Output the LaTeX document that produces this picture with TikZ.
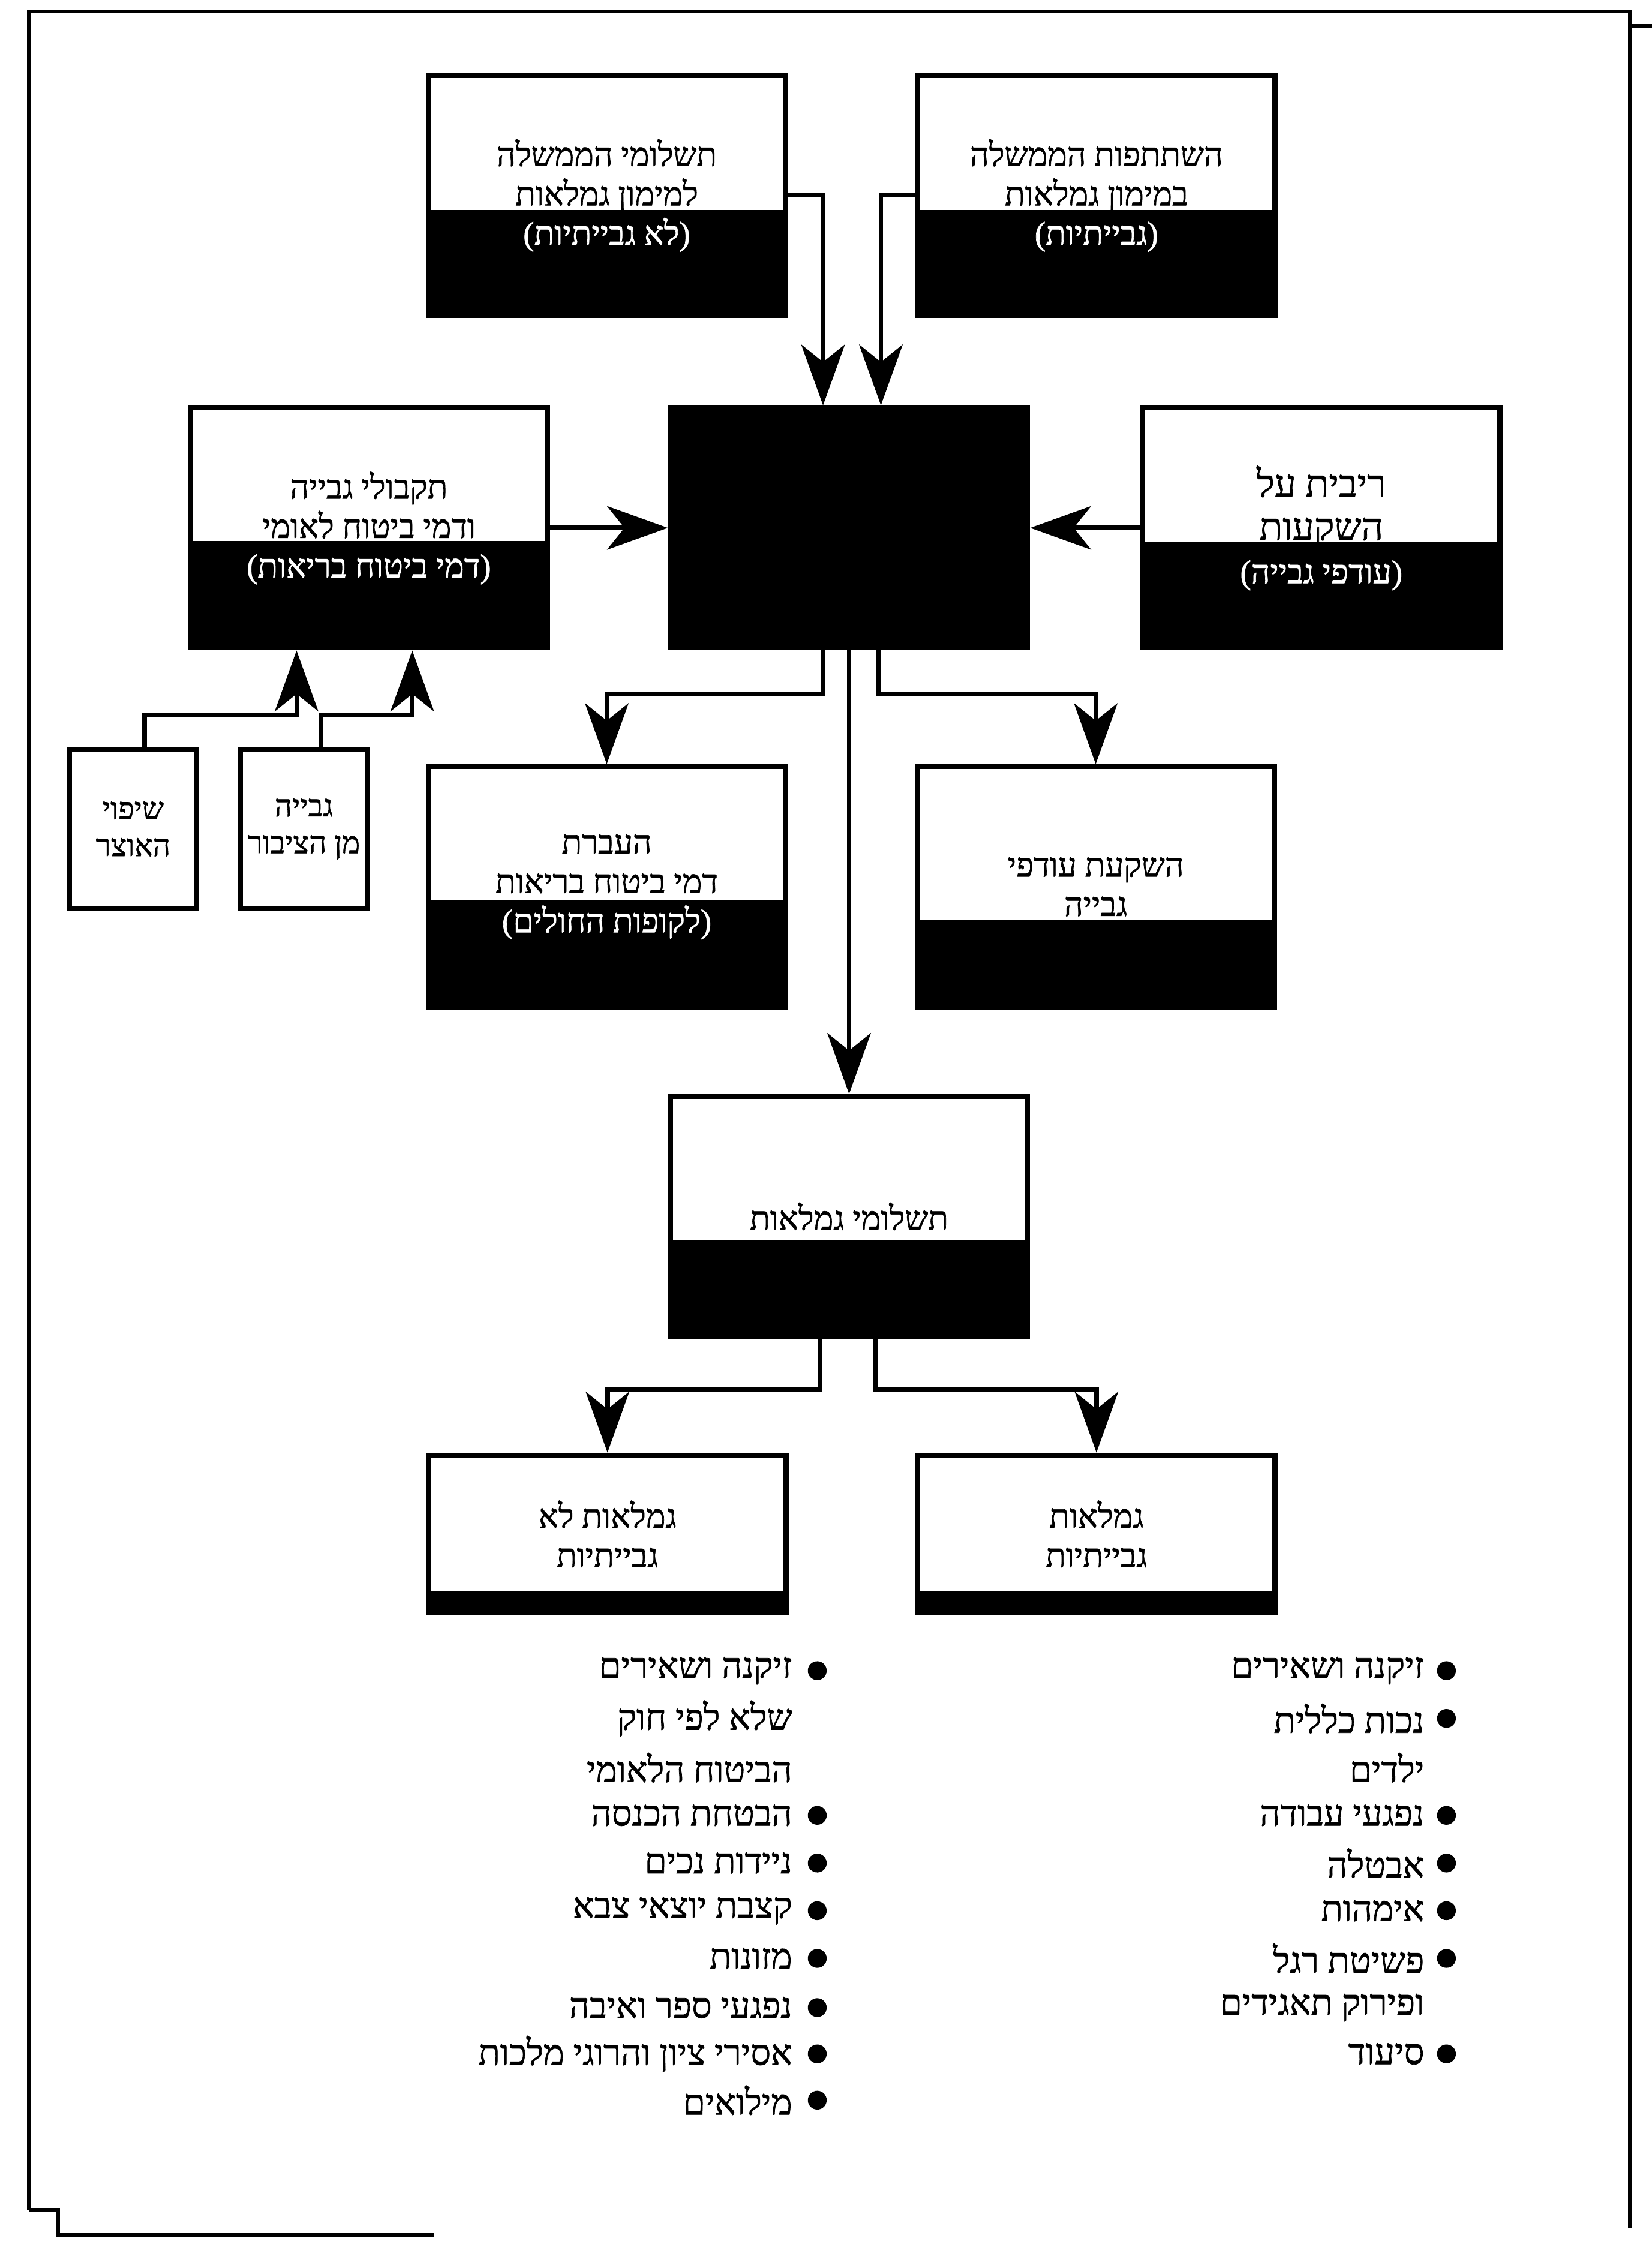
\documentclass[tikz,border=0pt]{standalone}
\usepackage{fontspec}
\setmainfont{Liberation Serif}[Script=Hebrew,FakeBold=1.2]
\TeXXeTstate=1
\usetikzlibrary{arrows.meta,positioning,calc}
\newcommand{\hb}[1]{\beginR #1\endR}
\tikzset{
  pane/.style={rectangle,draw,line width=2pt,fill=white,align=center,
               minimum width=4.94cm,minimum height=3.32cm,
               font=\fontsize{13}{15.5}\selectfont},
  dk/.style={pane,path picture={\fill[black] (path picture bounding box.south west)
               rectangle ([yshift=#1]path picture bounding box.east);}},
  smallpane/.style={pane,minimum width=1.76cm,minimum height=2.2cm,inner sep=1pt,
               font=\fontsize{12}{14.5}\selectfont},
  arr/.style={-{Stealth[length=0.84cm,width=0.6cm,inset=0.24cm]},line width=1.8pt},
  lst/.style={anchor=east,inner sep=0pt,font=\fontsize{14}{16}\selectfont},
  dot/.style={circle,fill,inner sep=0pt,minimum size=0.26cm},
  frm/.style={line width=1.5pt}
}
\begin{document}
\begin{tikzpicture}[x=0.02cm,y=-0.02cm]
  \useasboundingbox (0,0) rectangle (1142,1568);
  % page frame
  \draw[frm] (20,1528) -- (20,8) -- (1127,8) -- (1127,1540);
  \draw[frm] (1127,18) -- (1142,18);
  \draw[frm] (20,1528) -- (40,1528) -- (40,1545) -- (300,1545);

  % sources
  \node[dk=-0.2cm] (gpay) at (419.5,135) {\hb{תשלומי הממשלה}\\\hb{למימון גמלאות}\\\textcolor{white}{\hb{(לא גבייתיות)}}};
  \node[dk=-0.2cm] (gpart) at (758,135) {\hb{השתתפות הממשלה}\\\hb{במימון גמלאות}\\\textcolor{white}{\hb{(גבייתיות)}}};
  \node[dk=-0.18cm] (coll) at (255,365) {\hb{תקבולי גבייה}\\\hb{ודמי ביטוח לאומי}\\\textcolor{white}{\hb{(דמי ביטוח בריאות)}}};
  \node[pane,fill=black] (core) at (587,365) {};
  \node[dk=-0.2cm,font=\fontsize{15}{17}\selectfont] (ribit) at (913.5,365) {\hb{ריבית על}\\\hb{השקעות}\\\textcolor{white}{\fontsize{13}{15}\selectfont\hb{(עודפי גבייה)}}};
  \node[smallpane] (shipui) at (92,573) {\hb{שיפוי}\\\hb{האוצר}};
  \node[smallpane] (gviya) at (210,573) {\hb{גבייה}\\\hb{מן הציבור}};

  % uses
  \node[dk=-0.18cm] (transfer) at (419.5,613) {\hb{העברת}\\\hb{דמי ביטוח בריאות}\\\textcolor{white}{\hb{(לקופות החולים)}}};
  \node[dk=-0.46cm] (surplus) at (757.5,613) {\hb{השקעת עודפי}\\\hb{גבייה}};
  \node[dk=-0.32cm] (tsh) at (587,841) {\hb{תשלומי גמלאות}};
  \node[dk=-0.79cm,minimum height=2.18cm] (nong) at (420,1060.5) {\hb{גמלאות לא}\\\hb{גבייתיות}};
  \node[dk=-0.79cm,minimum height=2.18cm] (gng) at (758,1060.5) {\hb{גמלאות}\\\hb{גבייתיות}};

  \draw[arr] (gpay.east) -| ([xshift=-0.36cm]core.north);
  \draw[arr] (gpart.west) -| ([xshift=0.44cm]core.north);
  \draw[arr] (coll) -- (core);
  \draw[arr] (ribit) -- (core);
  \draw[arr] ([xshift=0.16cm]shipui.north) -- ++(0,-22) -| ([xshift=-1cm]coll.south);
  \draw[arr] ([xshift=0.24cm]gviya.north) -- ++(0,-22) -| ([xshift=0.6cm]coll.south);
  \draw[arr] ([xshift=-0.36cm]core.south) -- ++(0,30) -| (transfer.north);
  \draw[arr] ([xshift=0.4cm]core.south) -- ++(0,30) -| (surplus.north);
  \draw[arr] (core) -- (tsh);
  \draw[arr] ([xshift=-0.4cm]tsh.south) -- ++(0,35) -| (nong.north);
  \draw[arr] ([xshift=0.36cm]tsh.south) -- ++(0,35) -| (gng.north);

  % contributory benefits
  \node[lst] (r1) at (985,1155) {\hb{זיקנה ושאירים}};
  \node[lst] (r2) at (985,1188) {\hb{נכות כללית}};
  \node[lst] (r3) at (985,1222) {\hb{ילדים}};
  \node[lst] (r4) at (985,1255) {\hb{נפגעי עבודה}};
  \node[lst] (r5) at (985,1288) {\hb{אבטלה}};
  \node[lst] (r6) at (985,1321) {\hb{אימהות}};
  \node[lst] (r7) at (985,1354) {\hb{פשיטת רגל}};
  \node[lst] (r8) at (985,1388) {\hb{ופירוק תאגידים}};
  \node[lst] (r9) at (985,1420) {\hb{סיעוד}};
  \node[dot] (r1d) at (1000,1155) {};
  \node[dot] (r2d) at (1000,1188) {};
  \node[dot] (r4d) at (1000,1255) {};
  \node[dot] (r5d) at (1000,1288) {};
  \node[dot] (r6d) at (1000,1321) {};
  \node[dot] (r7d) at (1000,1354) {};
  \node[dot] (r9d) at (1000,1420) {};

  % non-contributory benefits
  \node[lst] (l1) at (548,1155) {\hb{זיקנה ושאירים}};
  \node[lst] (l2) at (548,1188) {\hb{שלא לפי חוק}};
  \node[lst] (l3) at (548,1222) {\hb{הביטוח הלאומי}};
  \node[lst] (l4) at (548,1255) {\hb{הבטחת הכנסה}};
  \node[lst] (l5) at (548,1288) {\hb{ניידות נכים}};
  \node[lst] (l6) at (548,1321) {\hb{קצבת יוצאי צבא}};
  \node[lst] (l7) at (548,1354) {\hb{מזונות}};
  \node[lst] (l8) at (548,1388) {\hb{נפגעי ספר ואיבה}};
  \node[lst] (l9) at (548,1420) {\hb{אסירי ציון והרוגי מלכות}};
  \node[lst] (l10) at (548,1452) {\hb{מילואים}};
  \node[dot] (l1d) at (565,1155) {};
  \node[dot] (l4d) at (565,1255) {};
  \node[dot] (l5d) at (565,1288) {};
  \node[dot] (l6d) at (565,1321) {};
  \node[dot] (l7d) at (565,1354) {};
  \node[dot] (l8d) at (565,1388) {};
  \node[dot] (l9d) at (565,1420) {};
  \node[dot] (l10d) at (565,1452) {};
\end{tikzpicture}
\end{document}
